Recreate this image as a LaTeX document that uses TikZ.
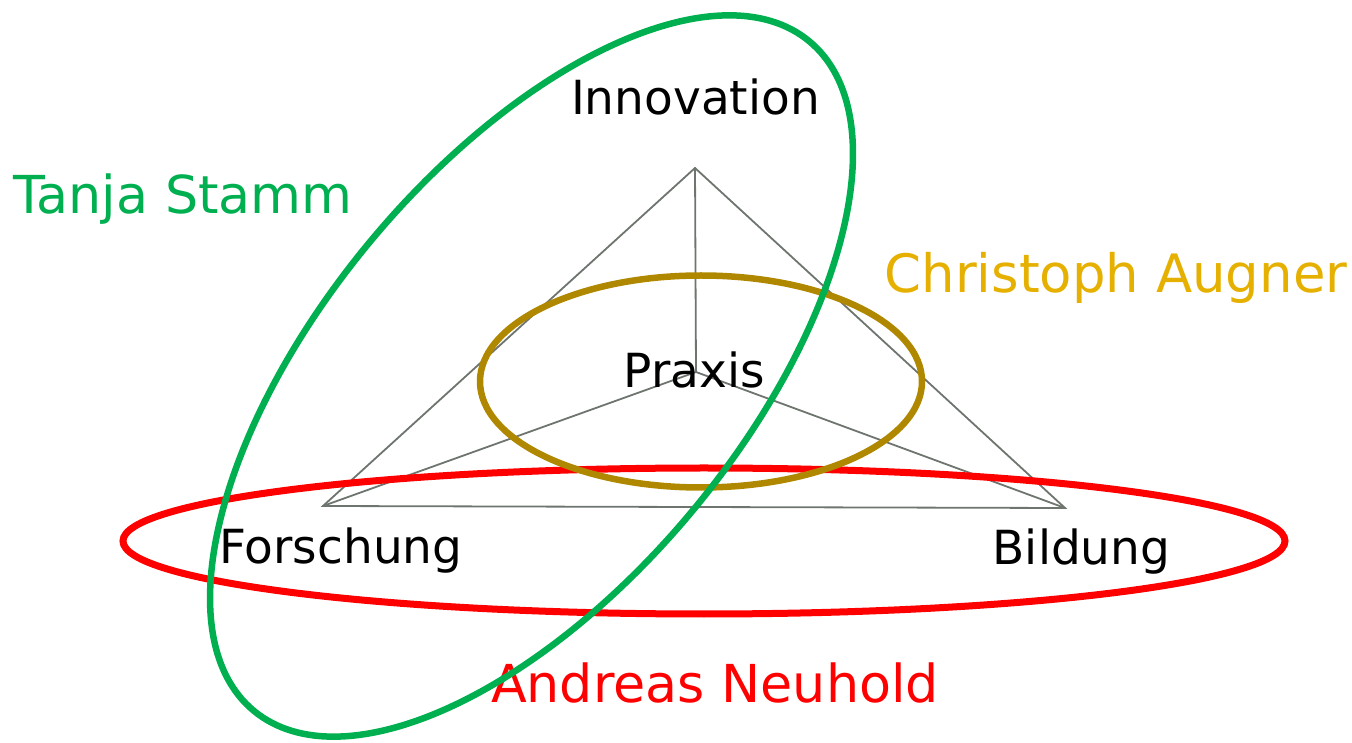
\documentclass[tikz,border=0pt]{standalone}
\usepackage{fontspec}
\setmainfont{DejaVu Sans}
\definecolor{tgreen}{RGB}{0,176,80}
\definecolor{tgold}{RGB}{176,136,0}
\definecolor{tgoldtext}{RGB}{230,176,0}
\definecolor{tred}{RGB}{255,0,0}
\definecolor{tgray}{RGB}{110,116,110}
\tikzset{
  edge/.style={draw=tgray, line width=1.8pt},
  lbl/.style={anchor=base, inner sep=0pt, text=black, font=\fontsize{47}{47}\selectfont},
  person/.style={anchor=base, inner sep=0pt},
}
\begin{document}
\begin{tikzpicture}[x=1pt,y=1pt]
\useasboundingbox (0,0) rectangle (1352,742);
% triangle
\coordinate (I) at (695,574);
\coordinate (F) at (323,236);
\coordinate (B) at (1065,234);
\coordinate (P) at (696,370);
\draw[edge] (I) -- (F) -- (B) -- cycle;
\draw[edge] (I) -- (P);
\draw[edge] (F) -- (P);
\draw[edge] (B) -- (P);
% labels
\node[lbl] (innov) at (695.5,627) {Innovation};
\node[lbl] (praxis) at (694,354) {Praxis};
\node[lbl] (forsch) at (341,178) {Forschung};
\node[lbl] (bild) at (1081.5,177) {Bildung};
\node[person, text=tgreen, font=\fontsize{52.3}{52.3}\selectfont] (tanja) at (183,528) {Tanja Stamm};
\node[person, text=tgoldtext, font=\fontsize{52.9}{52.9}\selectfont] (chris) at (1116,449) {Christoph Augner};
\node[person, text=tred, font=\fontsize{52.3}{52.3}\selectfont] (andreas) at (715,40) {Andreas Neuhold};
% ellipses
\draw[tred, line width=7pt] (704,201) ellipse (581 and 73);
\draw[tgold, line width=6.5pt] (701,360.5) ellipse (221 and 106);
\draw[tgreen, line width=6.5pt, rotate around={50.3:(531.5,366)}] (531.5,366) ellipse (435 and 210);
\end{tikzpicture}
\end{document}
